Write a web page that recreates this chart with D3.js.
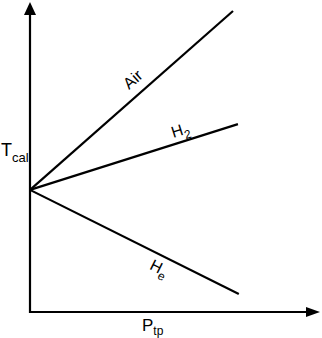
<!DOCTYPE html>
<html>
<head>
<meta charset="utf-8">
<script src="https://cdn.jsdelivr.net/npm/d3@7"></script>
<style>
	body { margin: 0; background: #fff; }
	text { font-family: "Liberation Sans", Arial, sans-serif; fill: #000; }
</style>
</head>
<body>
<div id="chart"></div>
<script>

// gases and where their lines end (arbitrary units, sketch chart)
var gasNames = ["Air", "H", "H"];
var gasSubs = ["", "2", "e"];
var gasEndX = [7.0, 7.17, 7.2];
var gasEndY = [9.71, 6.06, 0.58];

// common starting point of all lines
var startX = 0;
var startY = 3.94;

// axis labels
var yLabel = ["T", "cal"];
var xLabel = ["P", "tp"];

var width = 322,
	height = 338;

var svg = d3.select("#chart")
	.append("svg")
	.attr("width", width)
	.attr("height", height);

// scales
var x = d3.scaleLinear().domain([0, 10]).range([30, 320]);
var y = d3.scaleLinear().domain([0, 10]).range([312, 2]);

// arrow heads for axes
svg.append("path")
	.attr("d", "M" + x(0) + "," + y(10) + "l-6,13l12,0z")
	.attr("fill", "#000");

svg.append("path")
	.attr("d", "M" + x(10) + "," + y(0) + "l-14,-5l0,10z")
	.attr("fill", "#000");

// axes
svg.append("path")
	.attr("d", "M" + x(0) + "," + (y(10) + 8) + "L" + x(0) + "," + y(0) + "L" + (x(10) - 8) + "," + y(0))
	.attr("fill", "none")
	.attr("stroke", "#000")
	.attr("stroke-width", 2.2);

// lines per gas
var gases = gasNames.map(function(d, i){

	return {name: d, sub: gasSubs[i], ex: gasEndX[i], ey: gasEndY[i]};
});

svg.append("g")
	.selectAll("line")
	.data(gases)
	.enter()
	.append("line")
	.attr("x1", x(startX))
	.attr("y1", y(startY))
	.attr("x2", function(d){ return x(d.ex); })
	.attr("y2", function(d){ return y(d.ey); })
	.attr("stroke", "#000")
	.attr("stroke-width", 2.2);

// label placement along each line: fraction and offset (positive = above)
var labelPos = [{t: 0.555, off: 15}, {t: 0.74, off: 12}, {t: 0.645, off: -12}];

var labels = svg.append("g")
	.selectAll("text")
	.data(gases)
	.enter()
	.append("text")
	.attr("font-size", 16)
	.attr("text-anchor", "middle")
	.attr("transform", function(d, i){

		var x1 = x(startX), y1 = y(startY), x2 = x(d.ex), y2 = y(d.ey);
		var dx = x2 - x1, dy = y2 - y1, len = Math.sqrt(dx * dx + dy * dy);
		var p = labelPos[i];
		var px = x1 + dx * p.t + dy / len * p.off;
		var py = y1 + dy * p.t - dx / len * p.off;
		var ang = Math.atan2(dy, dx) * 180 / Math.PI;
		return "translate(" + px + "," + py + ") rotate(" + ang + ")";
	});

labels.append("tspan")
	.attr("dy", "0.35em")
	.text(function(d){ return d.name; });

labels.append("tspan")
	.attr("font-size", 12)
	.attr("dy", 5)
	.text(function(d){ return d.sub; });

// y axis label
var yl = svg.append("text")
	.attr("x", 1)
	.attr("y", 156)
	.attr("font-size", 18);

yl.append("tspan").text(yLabel[0]);
yl.append("tspan").attr("font-size", 13).attr("dy", 6).text(yLabel[1]);

// x axis label
var xl = svg.append("text")
	.attr("x", 142)
	.attr("y", 331)
	.attr("font-size", 17);

xl.append("tspan").text(xLabel[0]);
xl.append("tspan").attr("font-size", 12).attr("dy", 4).text(xLabel[1]);

</script>
</body>
</html>
